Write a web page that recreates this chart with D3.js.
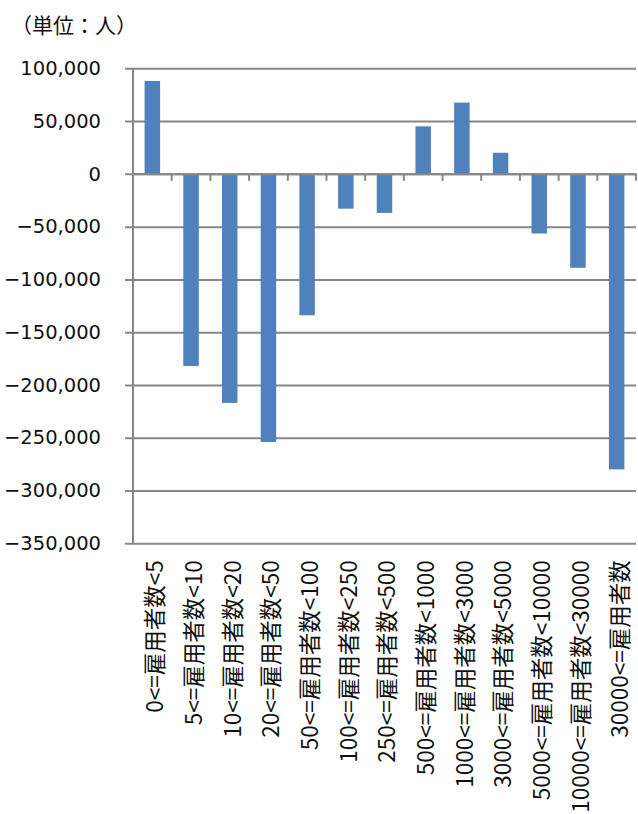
<!DOCTYPE html>
<html>
<head>
<meta charset="utf-8">
<script src="https://cdn.jsdelivr.net/npm/d3@7"></script>
<style>
  html, body { margin: 0; padding: 0; background: #fff; }
  svg { display: block; }
</style>
</head>
<body>
<svg id="chart" width="638" height="814"></svg>
<script>
// Categories: employer size classes (number of employees)
const categories = [
  "0<=雇用者数<5", "5<=雇用者数<10", "10<=雇用者数<20", "20<=雇用者数<50",
  "50<=雇用者数<100", "100<=雇用者数<250", "250<=雇用者数<500",
  "500<=雇用者数<1000", "1000<=雇用者数<3000", "3000<=雇用者数<5000",
  "5000<=雇用者数<10000", "10000<=雇用者数<30000", "30000<=雇用者数"
];
// Change in number of persons per size class
const values = [
  88000, -182000, -217000, -254000, -134000, -33000, -37000,
  45000, 67500, 20000, -56500, -89000, -280000
];
// Value axis ticks
const yTicks = [100000, 50000, 0, -50000, -100000, -150000, -200000,
                -250000, -300000, -350000];
const unitLabel = "（単位：人）";

const svg = d3.select("#chart");
const plot = { left: 133, right: 636, top: 68.3, bottom: 543.3 };
const gridColor = "#878787";
const barColor = "#4F81BD";
const numFont = "'DejaVu Sans', sans-serif";
const cjkFont = "'Noto Sans CJK JP', sans-serif";

const x = d3.scaleBand()
  .domain(categories)
  .range([plot.left, plot.right])
  .paddingInner(0.6)
  .paddingOuter(0.3);

const xBand = d3.scaleBand()
  .domain(categories)
  .range([plot.left, plot.right]);

const y = d3.scaleLinear()
  .domain([-350000, 100000])
  .range([plot.bottom, plot.top]);

// Unit label
svg.append("text")
  .attr("x", 11)
  .attr("y", 33)
  .attr("font-family", cjkFont)
  .attr("font-size", 21)
  .attr("fill", "#111")
  .text(unitLabel);

// Horizontal gridlines with left tick marks
const yAxis = d3.axisLeft(y)
  .tickValues(yTicks)
  .tickSize(-(plot.right - plot.left))
  .tickPadding(0)
  .tickFormat(d3.format(",d"));

const gy = svg.append("g")
  .attr("transform", `translate(${plot.left},0)`)
  .call(yAxis);
gy.select(".domain").remove();
gy.selectAll(".tick line")
  .attr("x1", -8)
  .attr("stroke", gridColor)
  .attr("stroke-width", 2);
gy.selectAll(".tick text")
  .attr("x", -32)
  .attr("font-family", numFont)
  .attr("font-size", 19.5)
  .attr("fill", "#111");

// Vertical value axis line
svg.append("line")
  .attr("x1", plot.left).attr("x2", plot.left)
  .attr("y1", plot.top).attr("y2", plot.bottom)
  .attr("stroke", gridColor)
  .attr("stroke-width", 2);

// Bars
svg.append("g")
  .selectAll("rect")
  .data(values)
  .join("rect")
  .attr("x", (d, i) => x(categories[i]))
  .attr("width", x.bandwidth())
  .attr("y", d => y(Math.max(0, d)))
  .attr("height", d => Math.abs(y(d) - y(0)))
  .attr("fill", barColor);

// Category axis along zero
const xAxis = d3.axisBottom(xBand)
  .tickSize(0)
  .tickFormat("");
const gx = svg.append("g")
  .attr("transform", `translate(0,${y(0)})`)
  .call(xAxis);
gx.select(".domain")
  .attr("stroke", gridColor)
  .attr("stroke-width", 2);
gx.selectAll(".tick").remove();

// Category boundary ticks below the zero line
const boundaries = categories.map(c => xBand(c)).concat([plot.right]).slice(1);
svg.append("g")
  .selectAll("line")
  .data(boundaries)
  .join("line")
  .attr("x1", d => d).attr("x2", d => d)
  .attr("y1", y(0)).attr("y2", y(0) + 7)
  .attr("stroke", gridColor)
  .attr("stroke-width", 2);

// Rotated category labels
svg.append("g")
  .selectAll("text")
  .data(categories)
  .join("text")
  .attr("transform", d => `translate(${xBand(d) + xBand.bandwidth() / 2 + 3},${plot.bottom + 17}) rotate(-90)`)
  .attr("text-anchor", "end")
  .attr("dy", "0.35em")
  .attr("font-family", cjkFont)
  .attr("font-size", 22.5)
  .attr("fill", "#111")
  .text(d => d);
</script>
</body>
</html>
